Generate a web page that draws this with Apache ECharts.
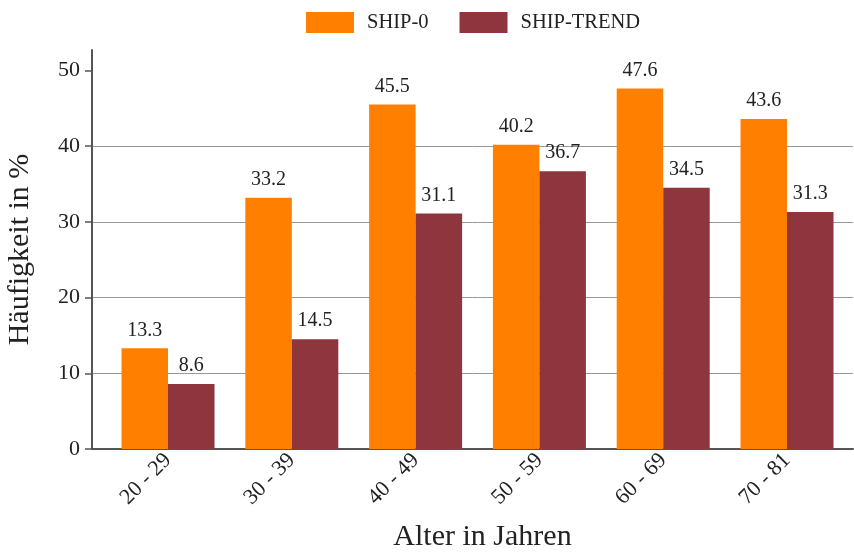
<!DOCTYPE html>
<html>
<head>
<meta charset="utf-8">
<script src="https://cdn.jsdelivr.net/npm/echarts@6/dist/echarts.min.js"></script>
<style>
  html, body { margin: 0; padding: 0; background: #fff; }
  #chart { width: 854px; height: 552px; }
</style>
</head>
<body>
<div id="chart"></div>
<script>
// data
const ageGroups = ['20 - 29', '30 - 39', '40 - 49', '50 - 59', '60 - 69', '70 - 81']
const ship0 = [13.3, 33.2, 45.5, 40.2, 47.6, 43.6]
const shipTrend = [8.6, 14.5, 31.1, 36.7, 34.5, 31.3]
const yTicks = [0, 10, 20, 30, 40, 50]

const font = 'Liberation Serif'
const chart = echarts.init(document.getElementById('chart'))

const barLabel = {
  show: true,
  position: 'top',
  distance: 8,
  fontFamily: font,
  fontSize: 20,
  color: '#222'
}

chart.setOption({
  animation: false,
  textStyle: { fontFamily: font },
  legend: {
    top: 7,
    left: 301,
    itemWidth: 48,
    itemHeight: 21,
    itemGap: 31,
    icon: 'rect',
    textStyle: { fontFamily: font, fontSize: 20.5, color: '#222', padding: [0, 0, 0, 8] },
    data: ['SHIP-0', 'SHIP-TREND']
  },
  grid: { left: 92, right: 1, top: 50, bottom: 103, outerBoundsMode: 'none' },
  xAxis: {
    type: 'value',
    min: -0.614,
    max: 5.533,
    name: 'Alter in Jahren',
    nameLocation: 'middle',
    nameGap: 73,
    nameTextStyle: { fontFamily: font, fontSize: 30, color: '#222', padding: [0, 0, 0, 20] },
    axisLine: { show: true, onZero: false, lineStyle: { color: '#555', width: 2 } },
    axisTick: { show: false },
    splitLine: { show: false },
    axisLabel: {
      customValues: [0, 1, 2, 3, 4, 5],
      formatter: v => ageGroups[Math.round(v)],
      rotate: 45,
      margin: 8,
      fontFamily: font,
      fontSize: 22,
      color: '#222'
    }
  },
  yAxis: {
    type: 'value',
    min: 0,
    max: 52.7,
    interval: 10,
    name: 'Häufigkeit in %',
    nameLocation: 'middle',
    nameGap: 57,
    nameTextStyle: { fontFamily: font, fontSize: 30, color: '#222' },
    axisLine: { show: true, onZero: false, lineStyle: { color: '#555', width: 2 } },
    axisTick: { show: true, customValues: yTicks, length: 7, lineStyle: { color: '#555', width: 1.5 } },
    axisLabel: { customValues: yTicks, margin: 12, fontFamily: font, fontSize: 22, color: '#222' },
    splitLine: { show: true, showMaxLine: false, lineStyle: { color: '#999', width: 1 } }
  },
  series: [
    {
      name: 'SHIP-0',
      type: 'bar',
      barWidth: 46.5,
      barGap: '0%',
      itemStyle: { color: '#FF8000' },
      label: barLabel,
      data: ship0.map((v, i) => [i, v])
    },
    {
      name: 'SHIP-TREND',
      type: 'bar',
      barWidth: 46.5,
      barGap: '0%',
      itemStyle: { color: '#8E353D' },
      label: barLabel,
      data: shipTrend.map((v, i) => [i, v])
    }
  ]
})
</script>
</body>
</html>
